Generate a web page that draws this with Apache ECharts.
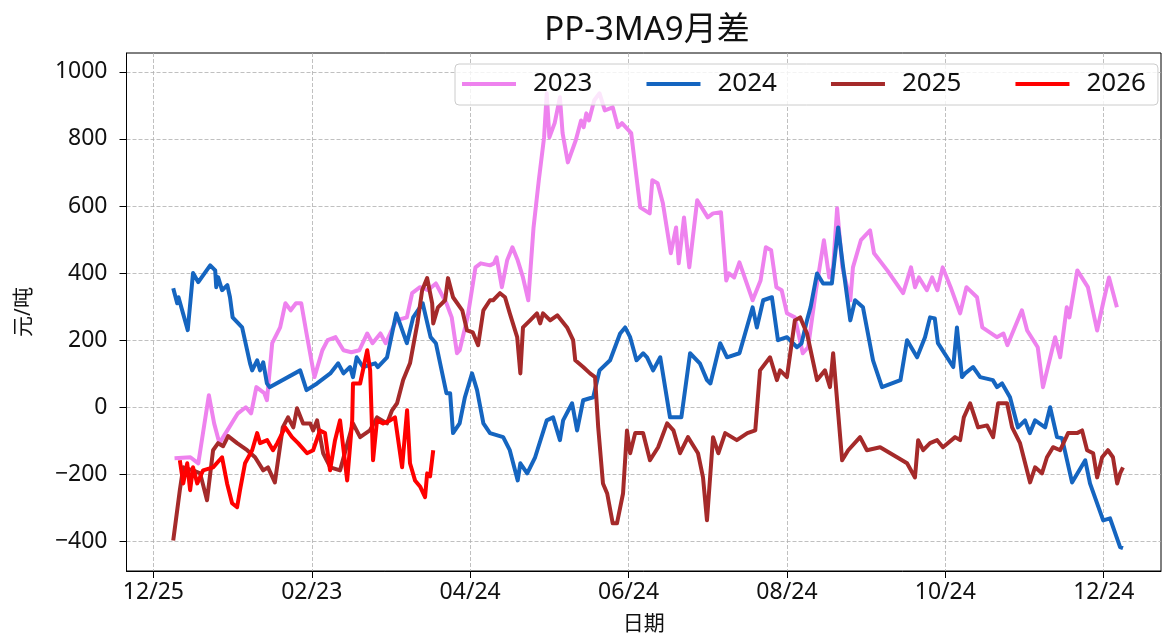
<!DOCTYPE html>
<html><head><meta charset="utf-8">
<script src="https://cdn.jsdelivr.net/npm/echarts@6/dist/echarts.min.js"></script>
<style>html,body{margin:0;padding:0;background:#fff}#c{width:1162px;height:637px}</style>
</head><body><div id="c"></div>
<script>
// x = days counted from the 12/25 tick
const xTickDays = [0, 60, 120, 180, 240, 300, 360];
const xTickLabels = ['12/25', '02/23', '04/24', '06/24', '08/24', '10/24', '12/24'];
const yTicks = [-400, -200, 0, 200, 400, 600, 800, 1000];
const seriesNames = ['2023', '2024', '2025', '2026'];
const seriesColors = ['#EE82EE', '#1565C0', '#A52A2A', '#FF0000'];

const d2023 = [[8,-152],[14,-149],[17,-167],[21,36],[23,-48],[25,-107],[28,-69],[32,-18],[35,0],[37,-18],[39,60],[42,42],[43,21],[45,191],[48,238],[50,310],[52,289],[54,310],[56,310],[58,220],[61,90],[64,170],[66,200],[69,209],[72,170],[75,164],[78,170],[81,220],[83,191],[86,220],[88,191],[92,259],[96,268],[98,340],[101,358],[104,349],[107,369],[111,310],[113,268],[115,161],[116,170],[119,268],[122,417],[124,429],[127.5,423],[129,429],[130,447],[132,358],[134,438],[136,477],[138,438],[140,387],[142,319],[144,536],[146,677],[148,805],[149,936],[150,805],[152,847],[154,924],[155,817],[157,730],[160,796],[162,855],[163,835],[164,876],[165,855],[167,915],[169,936],[171,885],[174,894],[176,835],[177.5,847],[181,817],[183,686],[184.4,596],[188,578],[189,677],[191,668],[193,608],[196,459],[198,536],[199,429],[201,566],[203,417],[206,617],[210,566],[212,578],[215,581],[217,378],[218,399],[220,387],[222,432],[227,319],[230,378],[232,477],[234,468],[236,358],[238,349],[240,280],[243,268],[246,161],[248,179],[251,349],[254,498],[256,387],[257.5,417],[259,593],[261,417],[264,319],[265,417],[268,498],[271.5,527],[273,459],[278,408],[284,340],[287,417],[288.5,358],[290,387],[293,349],[295,387],[297,349],[299,417],[302,358],[305.6,280],[308,358],[312,328],[314,238],[319.5,209],[322,220],[323.5,185],[329,289],[331,229],[335,179],[337,60],[341.6,209],[343.5,149],[346,298],[347,268],[350,408],[354,358],[357.5,229],[360,319],[362,387],[365,298]];

const d2024 = [[7.5,355],[9,310],[9.5,328],[13,230],[15,400],[17,373],[21.5,423],[23.4,408],[23.8,358],[24.5,388],[26,349],[28,364],[29,328],[30,268],[33.6,238],[36.6,131],[37.4,110],[39.3,140],[40.4,110],[41.6,134],[43,71],[44,60],[55.6,110],[58,51],[62,71],[67,101],[70,131],[72,101],[74.5,120],[75.6,90],[77,149],[79.4,120],[84,131],[85,120],[88.5,149],[92,280],[96,191],[98.4,268],[102,310],[105,209],[107,191],[111,42],[112.4,42],[113.5,-77],[116,-48],[118,30],[120.7,101],[122.6,51],[125,-48],[127.5,-77],[132.5,-89],[135,-128],[138,-218],[139,-167],[141.6,-197],[144.6,-149],[149,-39],[151.4,-30],[154,-98],[155.2,-39],[158.6,12],[160.5,-69],[162.8,21],[166.6,30],[169,110],[173,140],[176.8,220],[178.7,238],[180.6,209],[183,140],[185.5,161],[187,149],[189.3,110],[192,149],[195.7,-30],[200,-30],[203.3,161],[207,131],[209.7,81],[211,71],[214.7,191],[217.3,149],[222,161],[227,298],[228.6,238],[231,319],[234.3,328],[236.6,200],[240,209],[243.8,179],[245.5,190],[247.6,259],[249,300],[251.4,399],[253.7,369],[257,369],[259.4,536],[261.3,417],[264,259],[265.8,319],[268.8,298],[272.6,140],[276,60],[283,81],[285.5,200],[289.3,149],[292.3,209],[294.2,268],[296,265],[297.2,191],[303,120],[304.4,238],[306.3,90],[307.5,101],[310.5,120],[313.2,90],[318,81],[319.6,60],[321.5,71],[324.5,30],[327.5,-60],[330.2,-39],[332,-77],[334,-39],[337.8,-60],[339.7,0],[342.3,-89],[344.2,-92],[348,-224],[353,-158],[354.8,-227],[359.8,-337],[362.4,-331],[366.2,-417],[367.3,-420]];

const d2025 = [[7.5,-397],[10,-247],[11.3,-179],[15,-188],[17.7,-197],[20.3,-277],[22.6,-128],[24.5,-107],[26.4,-116],[28.3,-86],[31.7,-107],[35.5,-128],[38.5,-149],[41.6,-188],[43.4,-179],[46,-224],[49,-60],[51,-30],[53,-60],[54.4,-3],[56.7,-48],[59.4,-48],[60.5,-69],[62,-39],[64.3,-137],[67,-179],[70.7,-188],[75.6,-48],[78.3,-89],[82,-69],[84.7,-30],[88.5,-48],[90.4,-9],[92.3,12],[94.6,81],[97.2,131],[100,250],[101.8,349],[103.7,385],[105.6,310],[106,250],[107.8,298],[110.5,319],[111.6,385],[113.5,328],[117,289],[118.8,229],[121,223],[123,185],[125,289],[127.5,319],[128.7,319],[131.3,340],[133.2,328],[135,280],[137.8,209],[139,101],[140,238],[142.7,259],[145.3,280],[146.5,250],[147.6,280],[150.3,259],[153,274],[156.7,238],[159,200],[159.8,140],[162.8,120],[165.4,101],[167.3,90],[168.5,-60],[170.3,-227],[171.9,-257],[174,-346],[175.6,-346],[177.9,-257],[179.4,-69],[180.6,-137],[182.5,-77],[185.5,-77],[188.1,-158],[191.2,-119],[194.6,-48],[197,-69],[199.5,-137],[202.5,-89],[206.3,-137],[208.2,-209],[209.7,-337],[212,-89],[214,-137],[216.6,-77],[221,-98],[225,-77],[228,-69],[229.8,110],[233.6,149],[236.2,81],[237.4,110],[240,90],[243,259],[245,268],[247.6,220],[251.4,81],[254.4,110],[256.3,60],[257.5,161],[260.9,-158],[263.2,-128],[267.7,-89],[270.3,-128],[275.3,-119],[281.7,-149],[285.5,-167],[288.5,-209],[289.7,-98],[291.6,-128],[294.2,-107],[296.9,-98],[299.1,-119],[303.7,-89],[305.6,-98],[307,-30],[309.4,12],[312.4,-60],[315.8,-54],[318.1,-89],[320,12],[323.4,12],[325.3,-60],[328.3,-107],[332.1,-224],[334,-179],[336.6,-197],[338.5,-149],[340.8,-119],[343.5,-128],[346.5,-77],[349.9,-77],[351.8,-69],[353.7,-128],[356,-137],[357.5,-209],[359.4,-149],[361.6,-128],[363.5,-149],[365.1,-227],[366.2,-197],[367.3,-179]];

const d2026 = [[10,-158],[11.3,-227],[12.8,-167],[13.9,-247],[15,-179],[16.6,-227],[18.8,-188],[22.6,-179],[26,-149],[27.9,-227],[29.8,-286],[31.7,-298],[32.8,-247],[34.7,-167],[37.4,-128],[39.3,-77],[40.4,-107],[43.1,-98],[45.3,-128],[46.9,-107],[49.9,-60],[52.5,-89],[54.8,-107],[58.2,-137],[60.5,-128],[63.1,-69],[65,-77],[66.9,-188],[68.8,-98],[70.7,-39],[73.4,-218],[75.3,-39],[75.6,71],[78.3,71],[81,170],[82.1,110],[83.2,-158],[84.7,-39],[87,-48],[89.7,-39],[91.5,-30],[94.2,-179],[96.1,-9],[97.2,-167],[99.1,-218],[101,-236],[102.9,-268],[103.7,-197],[104.8,-206],[106,-128]];

const seriesData = [d2023, d2024, d2025, d2026];

const FONT = '"Noto Sans", "Noto Sans CJK SC", sans-serif';
const chart = echarts.init(document.getElementById('c'), null, {renderer: 'canvas'});
const gridLine = {show: true, lineStyle: {color: '#b0b0b0', width: 0.8, type: [4, 2]}};
const fmtNum = v => (v < 0 ? '\u2212' : '') + Math.abs(v);

chart.setOption({
  animation: false,
  backgroundColor: '#fff',
  textStyle: {fontFamily: FONT},
  graphic: [{
    type: 'text', x: 647, y: 31,
    style: {text: 'PP-3MA9月差', fontFamily: FONT, fontSize: 33, fill: '#111', align: 'center', verticalAlign: 'middle'}
  }],
  grid: {left: 126.5, right: 1, top: 53, bottom: 66, show: true, borderColor: '#000', borderWidth: 1,
    containLabel: false, outerBoundsMode: 'none'},
  legend: {
    left: 455, top: 64,
    padding: [6, 12, 7, 7],
    itemGap: 54, itemWidth: 54, itemHeight: 4, icon: 'rect',
    borderColor: '#cccccc', borderWidth: 1, borderRadius: 4,
    backgroundColor: 'rgba(255,255,255,0.8)',
    textStyle: {fontSize: 26, lineHeight: 28, color: '#111', fontFamily: FONT, padding: [0, 0, 0, 12]},
    data: seriesNames
  },
  xAxis: {
    type: 'value', min: -10.2, max: 381.7,
    name: '日期', nameLocation: 'middle', nameGap: 43,
    nameTextStyle: {fontSize: 21, color: '#111', fontFamily: FONT},
    axisLine: {show: true, onZero: false, lineStyle: {color: '#000', width: 1}},
    axisTick: {show: true, inside: false, length: 7, lineStyle: {color: '#000'}, customValues: xTickDays},
    axisLabel: {show: true, fontSize: 23, color: '#111', margin: 10, customValues: xTickDays,
      formatter: v => { const i = xTickDays.indexOf(v); return i >= 0 ? xTickLabels[i] : ''; }},
    splitLine: gridLine
  },
  yAxis: {
    type: 'value', min: -488, max: 1056,
    name: '元/吨', nameLocation: 'middle', nameGap: 92,
    nameTextStyle: {fontSize: 21, color: '#111', fontFamily: FONT},
    axisLine: {show: true, onZero: false, lineStyle: {color: '#000', width: 1}},
    axisTick: {show: true, inside: false, length: 7, lineStyle: {color: '#000'}, customValues: yTicks},
    axisLabel: {show: true, fontSize: 23, color: '#111', margin: 19, customValues: yTicks, formatter: fmtNum},
    splitLine: gridLine
  },
  series: seriesNames.map((n, i) => ({
    name: n, type: 'line', data: seriesData[i],
    showSymbol: false, symbol: 'none',
    lineStyle: {width: 4, color: seriesColors[i], join: 'round'},
    itemStyle: {color: seriesColors[i]},
    z: 2 + i
  }))
});
</script></body></html>
